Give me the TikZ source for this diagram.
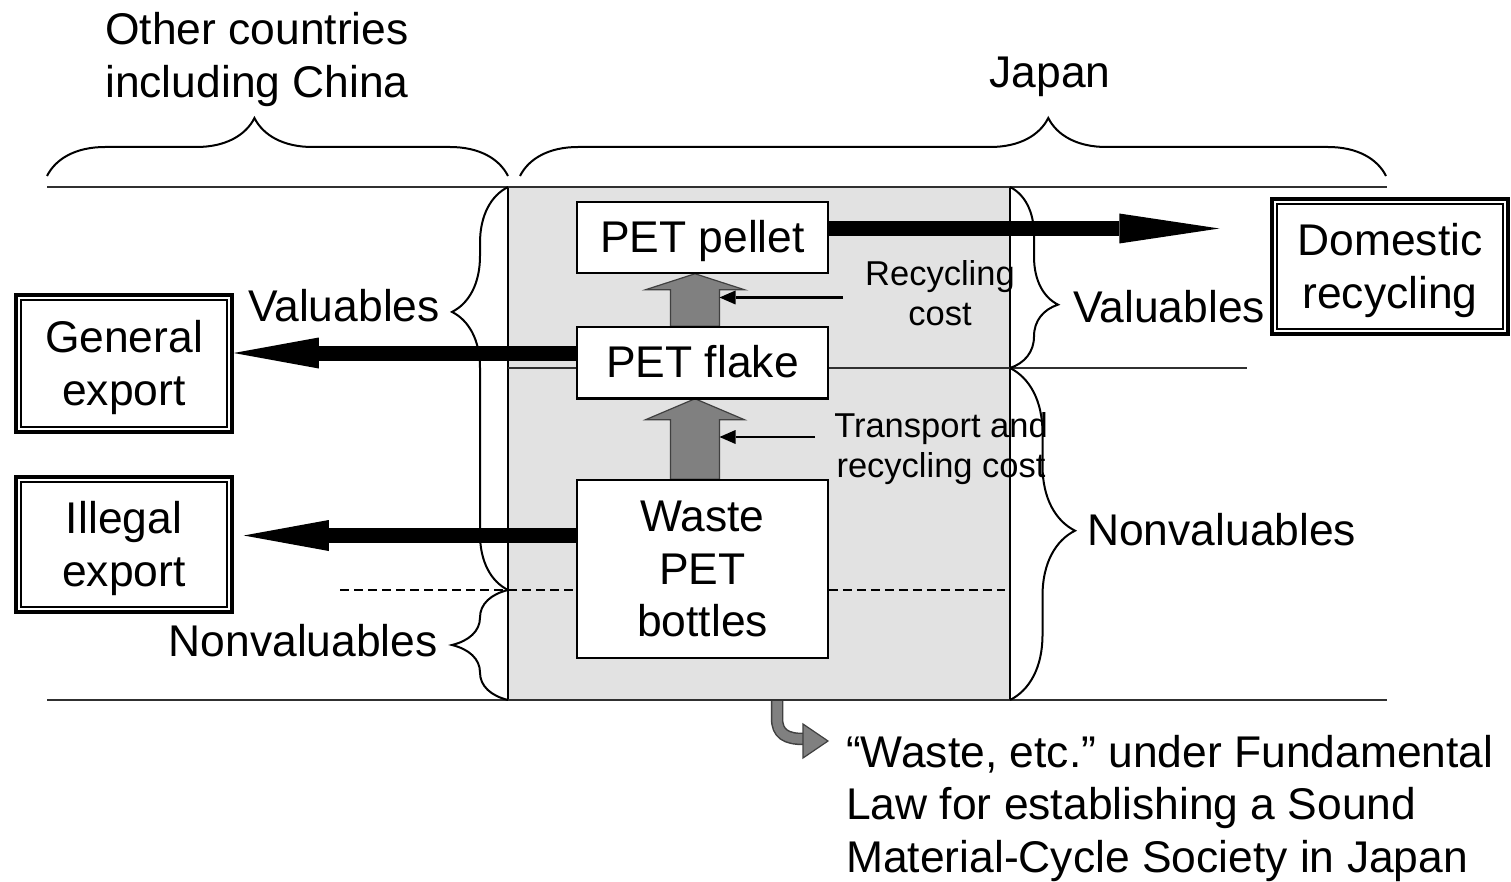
\documentclass[tikz,border=0pt]{standalone}
\usepackage{fontspec}
\setmainfont{Liberation Sans}
\usetikzlibrary{arrows.meta,decorations.pathreplacing,calc}
% type sizes and line struts (struts centre each line on its capitals)
\newcommand\fsbig{\fontsize{44.4}{52.5}\selectfont}
\newcommand\fssmall{\fontsize{34.5}{40}\selectfont}
\newcommand\lblstrut{\rule[-10.8pt]{0pt}{52.5pt}}
\newcommand\smlstrut{\rule[-7.6pt]{0pt}{40pt}}
\definecolor{bandgray}{HTML}{E2E2E2}
\definecolor{flowgray}{HTML}{808080}
\definecolor{rulegray}{HTML}{303030}
\frenchspacing
\begin{document}
\begin{tikzpicture}[x=1pt,y=-1pt,
  lbl/.style={font=\fsbig, inner sep=0pt, align=center},
  sml/.style={font=\fssmall, inner sep=0pt, align=center},
  petbox/.style={draw, line width=1.5pt, fill=white, minimum width=251pt,
    font=\fsbig, inner sep=0pt, align=center},
  outbox/.style={draw, line width=3.5pt, fill=white, font=\fsbig,
    inner sep=0pt, align=center},
  bigarrow/.style={line width=15pt, -{Triangle[length=85pt,width=31pt,line width=0pt]}},
  thinarrow/.style={line width=2.5pt, -{Triangle[length=16pt,width=14pt,line width=0pt]}},
  blockarr/.style={draw=black!75, line width=1.2pt, fill=flowgray, line join=miter},
  brc/.style={decorate, line width=2pt},
  dashline/.style={line width=2pt, dash pattern=on 9pt off 5pt},
  rule/.style={line width=2pt, rulegray}]
\useasboundingbox (0,0) rectangle (1511,882);

% shaded Japan band with its borders
\fill[bandgray] (508,187) rectangle (1010,700);
\draw[line width=1.5pt] (508,187) -- (508,700);
\draw[line width=1.5pt] (1010,187) -- (1010,700);
\draw[rule] (47,187) -- (1387,187);
\draw[rule] (47,700) -- (1387,700);
\draw[line width=1.5pt, rulegray] (508,368) -- (1247,368);

% region braces
\draw[brc, decoration={brace, amplitude=58pt, aspect=0.45}] (47,176) -- (508,176);
\draw[brc, decoration={brace, amplitude=58pt, aspect=0.61}] (520,176) -- (1386,176);
\draw[brc, decoration={brace, amplitude=56pt, aspect=0.69}] (508,590) -- (508,187);
\draw[brc, decoration={brace, amplitude=56pt, aspect=0.5}] (508,700) -- (508,590);
\draw[brc, decoration={brace, amplitude=48pt, aspect=0.65}] (1010,187) -- (1010,368);
\draw[brc, decoration={brace, amplitude=65pt, aspect=0.49}] (1010,368) -- (1010,700);

% process stages
\node[petbox, minimum height=71pt] (pellet) at (702.5,237.5) {PET pellet\lblstrut};
\node[petbox, minimum height=71pt] (flake) at (702.5,362.5) {PET flake\lblstrut};
\node[petbox, minimum height=178pt] (waste) at (702.5,569) {Waste\lblstrut\\PET\\bottles\lblstrut};

% destinations
\node[outbox, minimum width=216pt, minimum height=137pt] (ge) at (124,363.5) {General\lblstrut\\export\lblstrut};
\node[outbox, minimum width=216pt, minimum height=135pt] (ie) at (124,544.5) {Illegal\lblstrut\\export\lblstrut};
\node[outbox, minimum width=236pt, minimum height=135pt] (dom) at (1390,266.5) {Domestic\lblstrut\\recycling\lblstrut};
\foreach \b in {ge,ie,dom}
  \draw[line width=1.8pt] ($(\b.north west)+(7,7)$) rectangle ($(\b.south east)+(-7,-7)$);

% dashed split between valuables and nonvaluables
\coordinate (dl) at (340,590);
\coordinate (dr) at (1005,590);
\draw[dashline] (dl) -- (dl -| waste.west);
\draw[dashline] (waste.east |- dr) -- (dr);

% processing steps (grey block arrows)
\draw[blockarr] ($(flake.north)+(-32,0)$) -- ($(flake.north)+(17,0)$)
  -- ($(pellet.south)+(17,16)$) -- ($(pellet.south)+(42,16)$)
  -- ($(pellet.south)+(-7.5,0)$) -- ($(pellet.south)+(-57,16)$)
  -- ($(pellet.south)+(-32,16)$) -- cycle;
\draw[blockarr] ($(waste.north)+(-32,0)$) -- ($(waste.north)+(17,0)$)
  -- ($(flake.south)+(17,21)$) -- ($(flake.south)+(42,21)$)
  -- ($(flake.south)+(-7.5,0)$) -- ($(flake.south)+(-57,21)$)
  -- ($(flake.south)+(-32,21)$) -- cycle;
% redraw the box borders over the arrow ends
\draw[line width=1.5pt] (pellet.south west) -- (pellet.south east);
\draw[line width=1.5pt] (flake.north west) -- (flake.north east);
\draw[line width=1.5pt] (flake.south west) -- (flake.south east);
\draw[line width=1.5pt] (waste.north west) -- (waste.north east);

% cost inputs
\coordinate (c1) at (843,297.5);
\coordinate (c2) at (815,437);
\coordinate (s1) at ($(flake.north)+(17,0)$);
\draw[thinarrow] (c1) -- (c1 -| s1);
\draw[thinarrow] (c2) -- (c2 -| s1);
\node[sml] (rc) at (940,293) {Recycling\smlstrut\\cost\smlstrut};
\node[sml] (trc) at (941,445) {Transport and\smlstrut\\recycling cost\smlstrut};

% material flows
\draw[bigarrow] ([yshift=9.5pt]flake.west) -- ([yshift=9.5pt]flake.west -| ge.east);
\draw[bigarrow] ([yshift=33.5pt]waste.west) -- ($([yshift=33.5pt]waste.west -| ie.east)+(10,0)$);
\draw[bigarrow, -{Triangle[length=100pt,width=30pt,line width=0pt]}] ([yshift=9pt]pellet.east) -- ($([yshift=9pt]pellet.east -| dom.west)+(-51,0)$);

% region and class labels
\node[lbl] (oth) at (257,55.5) {Other countries\lblstrut\\including China\lblstrut};
\node[lbl] (jp) at (1050,72.5) {Japan\lblstrut};
\node[lbl, anchor=east] (lv) at (440,306.5) {Valuables\lblstrut};
\node[lbl, anchor=east] (lnv) at (438,641.5) {Nonvaluables\lblstrut};
\node[lbl, anchor=west] (rv) at (1073,307) {Valuables\lblstrut};
\node[lbl, anchor=west] (rnv) at (1087,530) {Nonvaluables\lblstrut};

% legal note with its bent pointer
\node[lbl, anchor=west, align=left] (law) at (846,804.5)
  {“Waste, etc.” under Fundamental\lblstrut\\Law for establishing a Sound\\Material-Cycle Society in Japan\lblstrut};
\coordinate (lawsrc) at (777,701);
\coordinate (lawtip) at (828,741);
\draw[line width=12.5pt, black!75] (lawsrc) -- ++(0,17) .. controls +(0,16) and +(-18,0) .. ++(27,21);
\draw[line width=9.5pt, flowgray] (lawsrc) -- ++(0,17) .. controls +(0,16) and +(-18,0) .. ++(27,21);
\draw[blockarr] ($(lawtip)+(-25,-17)$) -- (lawtip) -- ($(lawtip)+(-25,17)$) -- cycle;
\end{tikzpicture}
\end{document}
